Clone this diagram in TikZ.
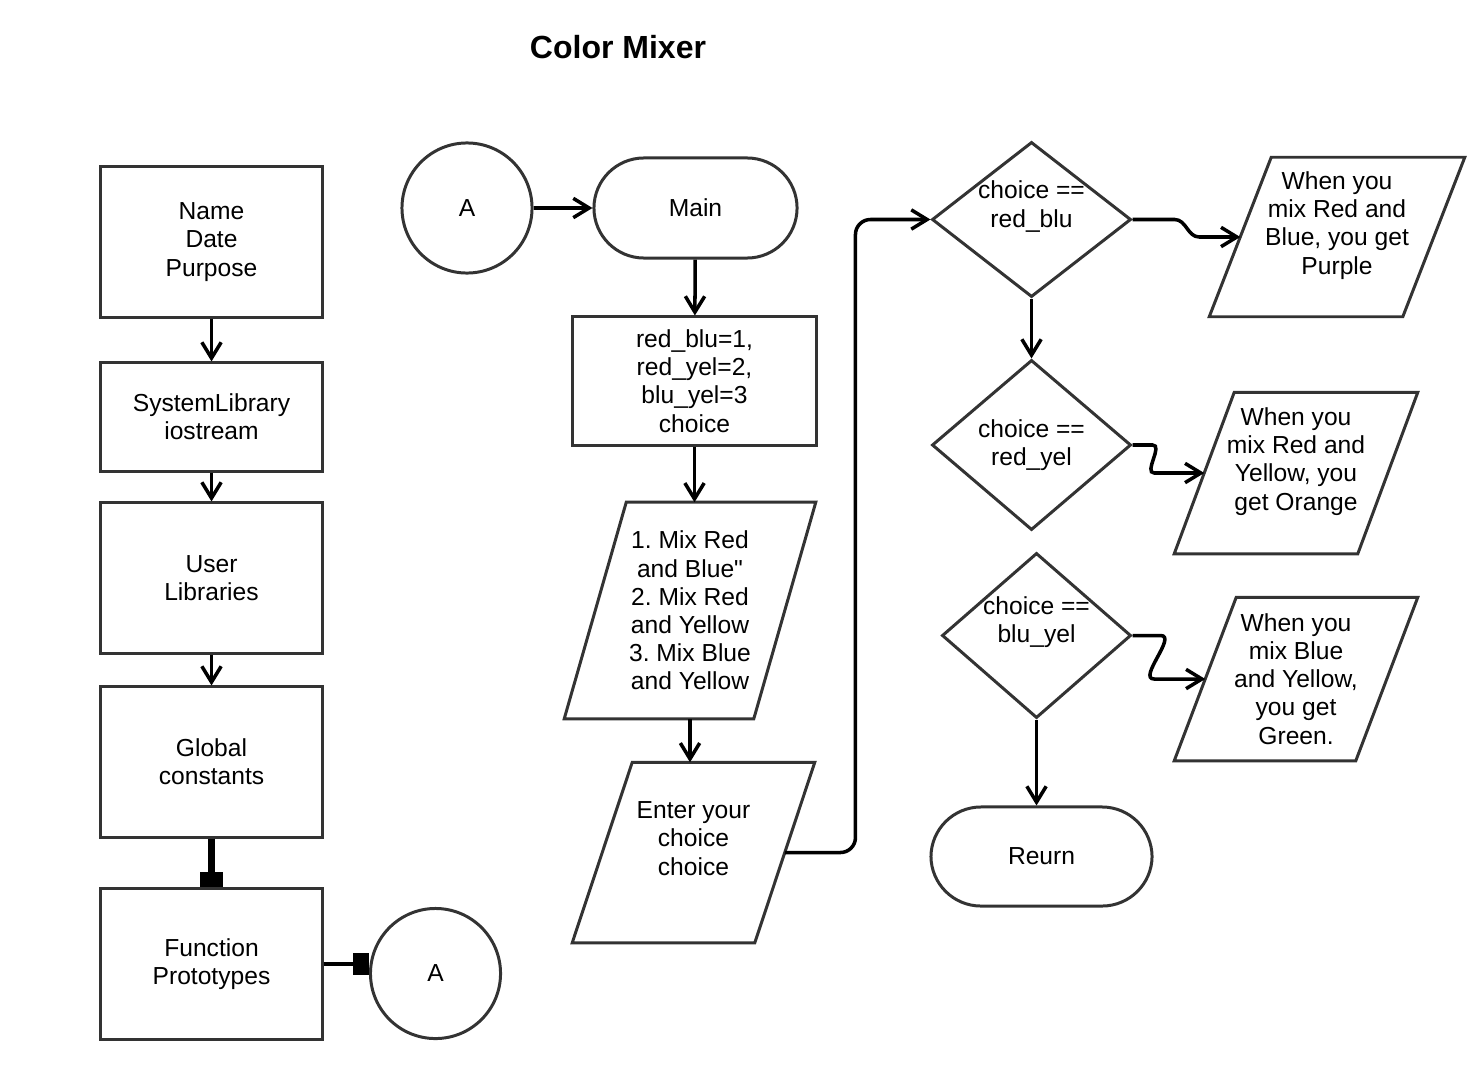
\documentclass[tikz,border=0pt]{standalone}
\usepackage{fontspec}
\setmainfont{Liberation Sans}[Ligatures=TeXOff]
\usepackage{tikz}
\usetikzlibrary{arrows.meta, positioning, calc, shapes.geometric}
\definecolor{shapegray}{RGB}{51,51,51}
\newcommand{\flowfont}{\fontsize{7}{8}\selectfont}
% slanted outline round a named io node
\newcommand{\ioshape}[2]{\draw[shapegray, line width=0.85pt] ($(#1.north west)+(#2,0)$) -- (#1.north east)
  -- ($(#1.south east)+(-#2,0)$) -- (#1.south west) -- cycle;}
\frenchspacing

\begin{document}
\begin{tikzpicture}[x=0.01cm, y=-0.01cm, >={Straight Barb[length=4.5pt,width=5.5pt]},
  box/.style={draw=shapegray, line width=0.85pt, align=center, font=\flowfont, minimum width=2.21cm},
  term/.style={draw=shapegray, line width=0.85pt, rounded corners=0.5cm, align=center, font=\flowfont},
  conn/.style={circle, draw=shapegray, line width=0.85pt, minimum size=1.3cm, font=\flowfont},
  dec/.style={diamond, draw=shapegray, line width=0.85pt, inner sep=0pt},
  io/.style={align=center, font=\flowfont, inner sep=1pt},
  flow/.style={->, line width=1pt}]
  \useasboundingbox (0,0) rectangle (1483,1079);
  \node[font=\fontsize{9.1}{11}\selectfont\bfseries] (title) at (618,47) {Color Mixer};

  % left column
  \node[box, minimum height=1.5cm] (info) at (211.5,242) {Name\\Date\\Purpose};
  \node[box, minimum height=1.08cm] (syslib) at (211.5,417) {SystemLibrary\\iostream};
  \node[box, minimum height=1.5cm] (userlib) at (211.5,578) {User\\Libraries};
  \node[box, minimum height=1.5cm] (globals) at (211.5,762) {Global\\constants};
  \node[box, minimum height=1.5cm] (protos) at (211.5,964) {Function\\Prototypes};
  \node[conn] (offpage) at (435.5,973.5) {A};

  % main column
  \node[conn] (onpage) at (467,208) {A};
  \node[term, minimum width=2.03cm, minimum height=1cm] (main) at (695.5,208) {Main};
  \node[box, minimum width=2.43cm, minimum height=1.28cm] (vars) at (694.5,381) {red\_blu=1,\\red\_yel=2,\\blu\_yel=3\\choice};
  \node[io, minimum width=2.5cm, minimum height=2.15cm] (menu) at (690,610.5) {1. Mix Red\\and Blue"\\2. Mix Red\\and Yellow\\3. Mix Blue\\and Yellow};
  \ioshape{menu}{62}
  \node[io, minimum width=2.41cm, minimum height=1.79cm] (input) at (693.5,852.5) {Enter your\\choice\\choice\\{}};
  \ioshape{input}{60}

  % decisions
  \node[dec, minimum width=1.99cm, minimum height=1.55cm,
    label={[font=\flowfont, align=center, yshift=0.13cm]center:choice ==\\red\_blu}] (d1) at (1031.5,219.5) {};
  \node[dec, minimum width=1.99cm, minimum height=1.7cm,
    label={[font=\flowfont, align=center]center:choice ==\\red\_yel}] (d2) at (1031.5,445) {};
  \node[dec, minimum width=1.89cm, minimum height=1.65cm,
    label={[font=\flowfont, align=center, yshift=0.13cm]center:choice ==\\blu\_yel}] (d3) at (1036.5,635.5) {};
  \node[term, minimum width=2.21cm, minimum height=0.99cm] (ret) at (1041.5,856.5) {Reurn};

  % outputs
  \node[io, minimum width=2.54cm, minimum height=1.58cm] (purple) at (1337,237) {When you\\mix Red and\\Blue, you get\\Purple\\{}};
  \ioshape{purple}{62}
  \node[io, minimum width=2.42cm, minimum height=1.6cm] (orange) at (1296,473) {When you\\mix Red and\\Yellow, you\\get Orange\\{}};
  \ioshape{orange}{60}
  \node[io, minimum width=2.42cm, minimum height=1.62cm] (green) at (1296,679) {When you\\mix Blue\\and Yellow,\\you get\\Green.};
  \ioshape{green}{62}

  % connectors
  \draw[flow] (info) -- (syslib);
  \draw[flow] (syslib) -- (userlib);
  \draw[flow] (userlib) -- (globals);
  \draw[line width=2pt, -{Square[length=4.5pt,width=6.5pt]}] (globals) -- (protos);
  \draw[line width=1.4pt, -{Square[length=4.5pt,width=6pt]}] (protos.east) -- (protos.east -| offpage.west);
  \draw[flow] (onpage) -- (main);
  \draw[flow] (main) -- (vars);
  \draw[flow] (vars) -- (vars |- menu.north);
  \draw[flow] (menu.south) -- (menu.south |- input.north);
  \draw[flow, rounded corners=0.15cm] ($(input.east)+(-30,0)$) -| ($(d1.west)+(-75,0)$) -- (d1.west);
  \draw[flow] (d1) -- (d2);
  \draw[flow] (d3.south) -- (d3.south |- ret.north);
  \draw[flow] (d1.east) -- ++(42,0) to[out=0,in=180] ($(purple.west)+(-10,0)$) -- ($(purple.west)+(31,0)$);
  \draw[flow] (d2.east) -- ++(20,0) to[out=0,in=180] ($(orange.west)+(-20,0)$) -- ($(orange.west)+(30,0)$);
  \draw[flow] (d3.east) -- ++(28,0) to[out=0,in=180] ($(green.west)+(-20,0)$) -- ($(green.west)+(31,0)$);
\end{tikzpicture}
\end{document}
